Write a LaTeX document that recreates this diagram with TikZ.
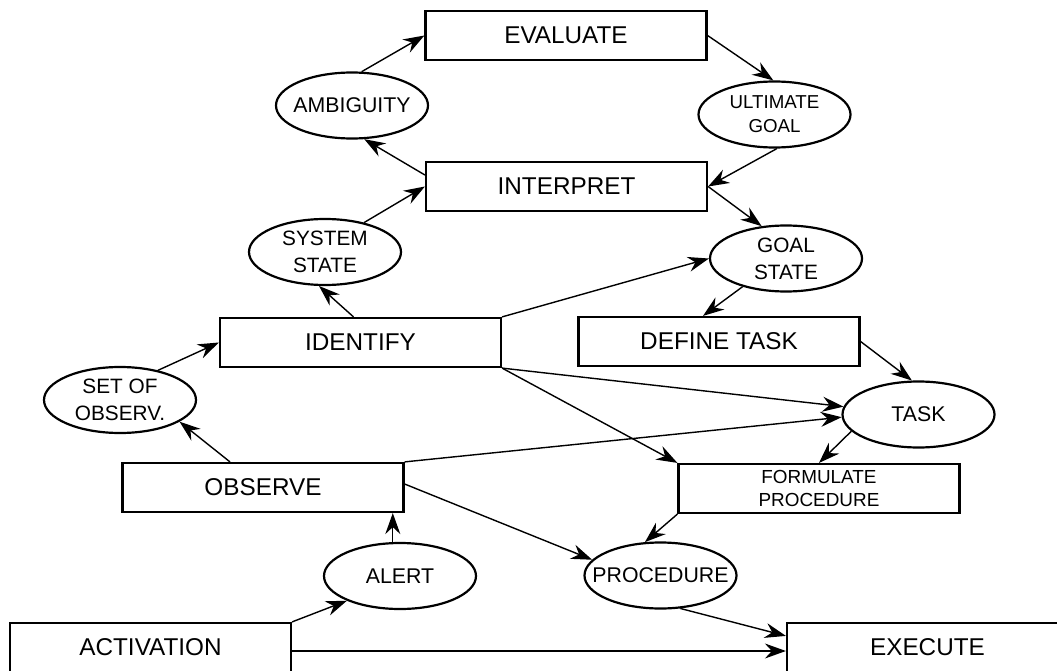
\documentclass[tikz,border=0pt]{standalone}
\usepackage{fontspec}
\setmainfont{Liberation Sans}
\usetikzlibrary{shapes.geometric,arrows.meta,calc}
\begin{document}
\begin{tikzpicture}[x=1pt,y=-1pt,
  box/.style={draw, line width=2.2pt, minimum width=281pt, minimum height=49pt, inner sep=0pt, font=\fontsize{24.3}{26}\selectfont},
  ell/.style={draw, ellipse, line width=2.2pt, minimum width=152pt, minimum height=66pt, inner sep=0pt},
  etxt/.style={font=\fontsize{21.3}{27}\selectfont, align=center, inner sep=0pt},
  etxtb/.style={font=\fontsize{20.8}{27}\selectfont, align=center, inner sep=0pt},
  etxts/.style={font=\fontsize{18.7}{24}\selectfont, align=center, inner sep=0pt},
  arr/.style={-{Stealth[length=21pt,width=15pt,inset=7pt]}, line width=1.4pt}]
\path[use as bounding box, fill=white] (0,0) rectangle (1057,671);

% boxes
\node[box] (eval)   at (566,35.5)    {EVALUATE};
\node[box] (interp) at (566.5,186.5) {INTERPRET};
\node[box] (ident)  at (360.5,342.5) {IDENTIFY};
\node[box] (define) at (719,341.5)   {DEFINE TASK};
\node[box, font=\fontsize{18.9}{22.3}\selectfont, align=center] (form) at (819,488.5) {FORMULATE\\PROCEDURE};
\node[box] (obs)    at (263,487.5)   {OBSERVE};
\node[box] (act)    at (150.5,647.5) {ACTIVATION};
\node[box] (exec)   at (927.5,647.5) {EXECUTE};

% ellipses
\node[ell] (amb)   at (352,105.5)   {};
\node[ell] (ug)    at (774.5,114.5) {};
\node[ell] (ss)    at (325,252)     {};
\node[ell] (gs)    at (786,258.5)   {};
\node[ell] (so)    at (120,400)     {};
\node[ell] (task)  at (918.5,414.5) {};
\node[ell] (alert) at (400,576)     {};
\node[ell] (proc)  at (660.5,575.5) {};

\node[etxt]  (amb-l)   at (amb)   {AMBIGUITY};
\node[etxts] (ug-l)    at (ug)    {ULTIMATE\\GOAL};
\node[etxtb] (ss-l)    at (ss)    {SYSTEM\\STATE};
\node[etxtb] (gs-l)    at (gs)    {GOAL\\STATE};
\node[etxtb] (so-l)    at (so)    {SET OF\\OBSERV.};
\node[etxt]  (task-l)  at (task)  {TASK};
\node[etxt]  (alert-l) at (alert) {ALERT};
\node[etxt]  (proc-l)  at (proc)  {PROCEDURE};

% helper points
\coordinate (ae) at ($(act.east)+(0,3.5)$);
\coordinate (ip) at ($(interp.west)+(0,-11.5)$);
\coordinate (idn) at ($(ident.north)+(-7,0)$);
\coordinate (obn) at ($(obs.north)+(-33,0)$);
\coordinate (exn) at ($(exec.north west)+(0,14)$);
\coordinate (obe) at ($(obs.east)+(0,-3.5)$);
\coordinate (dfn) at ($(define.north)+(-16,0)$);

% connectors
\draw[arr] (amb.74) -- (eval.west);
\draw[arr] (ip) -- (amb.-70);
\draw[arr] (ss.37) -- (interp.west);
\draw[arr] (idn) -- (ss.-100);
\draw[arr] (so.38) -- (ident.west);
\draw[arr] (obn) -- (so.-20);
\draw[arr] (alert.102) -- (alert.102 |- obs.south);
\draw[arr] (act.north east) -- (alert.205);
\draw[arr] (ae) -- (ae -| exec.west);
\draw[arr] (proc.301) -- (exn);
\draw[arr] (obe) -- (proc.167);
\draw[arr] (obs.north east) -- (task.182);
\draw[arr] (ident.south east) -- (task.174);
\draw[arr] (ident.south east) -- (form.north west);
\draw[arr] (ident.north east) -- (gs.west);
\draw[arr] (eval.east) -- (ug.92);
\draw[arr] (ug.-86) -- (interp.east);
\draw[arr] (interp.east) -- (gs.127);
\draw[arr] (gs.213) -- (dfn);
\draw[arr] (define.east) -- (task.101);
\draw[arr] (task.194) -- (form.north);
\draw[arr] (form.south west) -- (proc.115);
\end{tikzpicture}
\end{document}
